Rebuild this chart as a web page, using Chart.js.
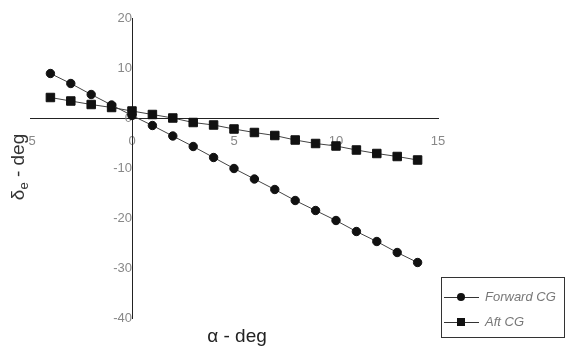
<!DOCTYPE html>
<html>
<head>
<meta charset="utf-8">
<script src="https://cdn.jsdelivr.net/npm/chart.js@4.4.1/dist/chart.umd.min.js"></script>
<style>
  html, body { margin: 0; padding: 0; background: #fff; }
  #wrap { width: 568px; height: 347px; }
</style>
</head>
<body>
<div id="wrap"><canvas id="chart" width="568" height="347"></canvas></div>
<script>
// angle of attack (deg)
const alpha = [-4, -3, -2, -1, 0, 1, 2, 3, 4, 5, 6, 7, 8, 9, 10, 11, 12, 13, 14];
// elevator deflection (deg)
const forwardCG = [8.9, 6.9, 4.7, 2.6, 0.5, -1.5, -3.6, -5.7, -7.9, -10.1, -12.2, -14.3, -16.5, -18.5, -20.5, -22.7, -24.7, -26.9, -28.9];
const aftCG = [4.1, 3.4, 2.7, 2.1, 1.4, 0.7, 0.0, -0.9, -1.4, -2.2, -2.9, -3.5, -4.4, -5.1, -5.6, -6.4, -7.1, -7.7, -8.4];

const seriesNames = ['Forward CG', 'Aft CG'];
const xTicks = [-5, 0, 5, 10, 15];
const yTicks = [20, 10, 0, -10, -20, -30, -40];

const fontFamily = '"Liberation Sans", Arial, sans-serif';

function toPoints(xs, ys) {
    return xs.map((x, i) => ({ x: x, y: ys[i] }));
}

// axis titles and the boxed legend in the lower right
const extras = {
    id: 'extras',
    afterDraw(chart) {
        const ctx = chart.ctx;
        ctx.save();

        // x title
        ctx.fillStyle = '#222';
        ctx.font = '19px ' + fontFamily;
        ctx.textAlign = 'center';
        ctx.textBaseline = 'alphabetic';
        ctx.fillText('α - deg', 237, 342);

        // y title: delta with subscript e
        ctx.save();
        ctx.translate(24, 167);
        ctx.rotate(-Math.PI / 2);
        ctx.fillStyle = '#333';
        ctx.textAlign = 'left';
        ctx.textBaseline = 'alphabetic';
        const bigFont = '19px ' + fontFamily;
        const subFont = '13px ' + fontFamily;
        ctx.font = bigFont;
        const wD = ctx.measureText('δ').width;
        const wRest = ctx.measureText(' - deg').width;
        ctx.font = subFont;
        const wE = ctx.measureText('e').width;
        const x0 = -(wD + wE + wRest) / 2;
        ctx.font = bigFont;
        ctx.fillText('δ', x0, 0);
        ctx.font = subFont;
        ctx.fillText('e', x0 + wD, 4);
        ctx.font = bigFont;
        ctx.fillText(' - deg', x0 + wD + wE, 0);
        ctx.restore();

        // legend box
        ctx.strokeStyle = '#333';
        ctx.lineWidth = 1;
        ctx.strokeRect(441.5, 277.5, 123, 60);
        chart.data.datasets.forEach((ds, i) => {
            const y = 297 + i * 25;
            ctx.strokeStyle = '#333';
            ctx.beginPath();
            ctx.moveTo(444, y + 0.5);
            ctx.lineTo(479, y + 0.5);
            ctx.stroke();
            ctx.fillStyle = '#111';
            ctx.beginPath();
            if (ds.pointStyle === 'rect') {
                ctx.rect(457, y - 4, 8, 8);
            } else {
                ctx.arc(461, y, 4, 0, Math.PI * 2);
            }
            ctx.fill();
            ctx.fillStyle = '#777';
            ctx.font = 'italic 13px ' + fontFamily;
            ctx.textAlign = 'left';
            ctx.textBaseline = 'middle';
            ctx.fillText(ds.label, 485, y);
        });

        ctx.restore();
    }
};

const ctx = document.getElementById('chart');

new Chart(ctx, {
    type: 'scatter',
    data: {
        datasets: [{
            label: seriesNames[0],
            data: toPoints(alpha, forwardCG),
            showLine: true,
            borderColor: '#444',
            borderWidth: 1,
            backgroundColor: '#111',
            pointBackgroundColor: '#111',
            pointBorderColor: '#111',
            pointStyle: 'circle',
            pointRadius: 4.2
        }, {
            label: seriesNames[1],
            data: toPoints(alpha, aftCG),
            showLine: true,
            borderColor: '#444',
            borderWidth: 1,
            backgroundColor: '#111',
            pointBackgroundColor: '#111',
            pointBorderColor: '#111',
            pointStyle: 'rect',
            pointRadius: 6
        }]
    },
    options: {
        responsive: false,
        animation: false,
        layout: {
            padding: { left: 30, top: 18, right: 130, bottom: 29 }
        },
        plugins: {
            legend: { display: false },
            tooltip: { enabled: false }
        },
        scales: {
            x: {
                type: 'linear',
                position: { y: 0 },
                min: xTicks[0],
                max: xTicks[xTicks.length - 1],
                afterBuildTicks: axis => { axis.ticks = xTicks.map(v => ({ value: v })); },
                grid: { display: false, drawTicks: true, tickLength: 16 },
                border: { display: true, color: '#222', width: 1 },
                ticks: {
                    color: '#888',
                    padding: 0,
                    font: { family: fontFamily, size: 13 }
                }
            },
            y: {
                type: 'linear',
                position: { x: 0 },
                min: yTicks[yTicks.length - 1],
                max: yTicks[0],
                afterBuildTicks: axis => { axis.ticks = yTicks.map(v => ({ value: v })); },
                grid: { display: false, drawTicks: true, tickLength: 15 },
                border: { display: true, color: '#222', width: 1 },
                ticks: {
                    color: '#888',
                    padding: 0,
                    font: { family: fontFamily, size: 13 }
                }
            }
        }
    },
    plugins: [extras]
});
</script>
</body>
</html>
